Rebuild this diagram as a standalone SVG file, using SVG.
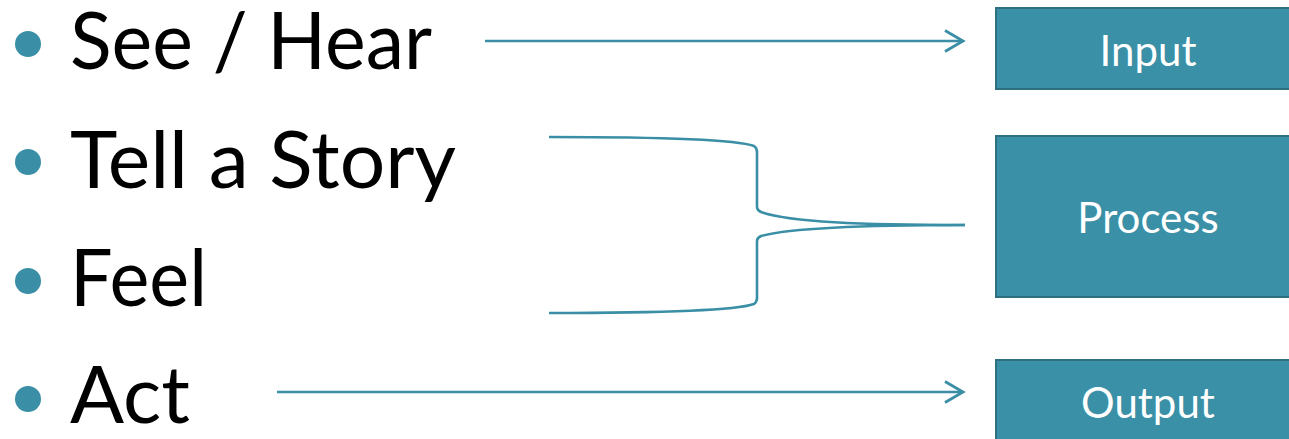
<svg xmlns="http://www.w3.org/2000/svg" width="1289" height="439" viewBox="0 0 1289 439">
<style>
.item{font-family:Lato,"Open Sans",sans-serif;font-size:79px;fill:#000}
.bul{fill:#3A8FA6}
.box{fill:#3A90A6;stroke:#2E6F80;stroke-width:2}
.lbl{font-family:Lato,"Open Sans",sans-serif;font-size:42px;fill:#fff;text-anchor:middle}
.con{fill:none;stroke:#3A8FA6;stroke-width:2.6}
</style>
<defs>
<marker id="arr" markerWidth="24" markerHeight="26" refX="19" refY="12" orient="auto" markerUnits="userSpaceOnUse">
<path d="M1,1.5 L19,12 L1,22.5" fill="none" stroke="#3A8FA6" stroke-width="2.8"/>
</marker>
</defs>
<g id="item-see"><circle class="bul" cx="28" cy="44" r="13"/><text class="item" x="70" y="69" textLength="362" lengthAdjust="spacingAndGlyphs">See / Hear</text></g>
<g id="item-tell"><circle class="bul" cx="28" cy="162" r="13"/><text class="item" x="70" y="188" textLength="386" lengthAdjust="spacingAndGlyphs">Tell a Story</text></g>
<g id="item-feel"><circle class="bul" cx="28" cy="281" r="13"/><text class="item" x="70" y="306" textLength="137" lengthAdjust="spacingAndGlyphs">Feel</text></g>
<g id="item-act"><circle class="bul" cx="28" cy="399" r="13"/><text class="item" x="70" y="423" textLength="120" lengthAdjust="spacingAndGlyphs">Act</text></g>
<g id="node-input"><rect class="box" x="996" y="8" width="330" height="81"/><text class="lbl" x="1148" y="66">Input</text></g>
<g id="node-process"><rect class="box" x="996" y="136" width="330" height="161"/><text class="lbl" x="1148" y="233">Process</text></g>
<g id="node-output"><rect class="box" x="996" y="360" width="330" height="100"/><text class="lbl" x="1148" y="418">Output</text></g>
<g id="connectors">
<line class="con" x1="485" y1="41" x2="963" y2="41" marker-end="url(#arr)"/>
<line class="con" x1="277" y1="392" x2="963" y2="392" marker-end="url(#arr)"/>
<path class="con" d="M549,137 C680,137 740,141 754,146 Q757,148 757,152 L757,207 Q757,210 761,212 C790,222 860,225 965,225"/>
<path class="con" d="M549,313 C680,313 740,309 754,304 Q757,302 757,298 L757,241 Q757,238 761,236 C790,228 860,225 965,225"/>
</g>
</svg>
